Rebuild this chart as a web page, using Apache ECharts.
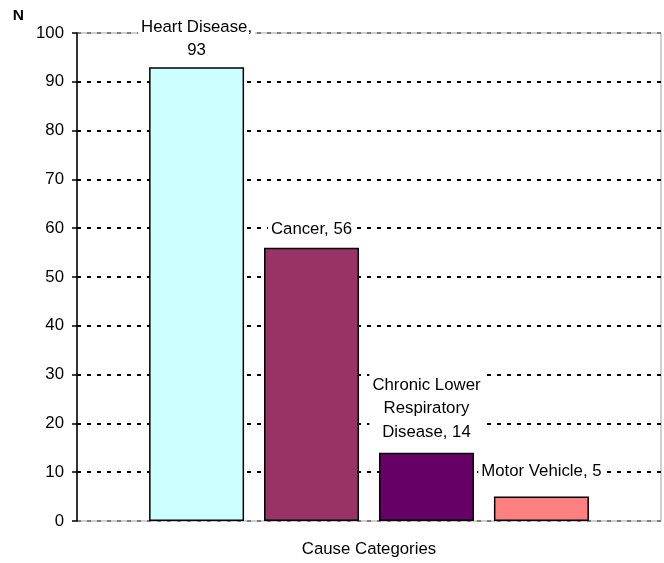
<!DOCTYPE html>
<html>
<head>
<meta charset="utf-8">
<script src="https://cdn.jsdelivr.net/npm/echarts@6/dist/echarts.min.js"></script>
<style>html,body{margin:0;padding:0;background:#fff;}#c{width:664px;height:563px;}</style>
</head>
<body>
<div id="c"></div>
<script>
var causeNames = ['Heart Disease', 'Cancer', 'Chronic Lower Respiratory Disease', 'Motor Vehicle'];
var labelNames = ['Heart Disease,\n', 'Cancer, ', 'Chronic Lower\nRespiratory\nDisease, ', 'Motor Vehicle, '];
var counts = [93, 56, 14, 5];
var barColors = ['#CCFFFF', '#993366', '#660066', '#FF8080'];
var yTicks = [0, 10, 20, 30, 40, 50, 60, 70, 80, 90, 100];
var labelDistances = [5, 7, 9, 13];

var chart = echarts.init(document.getElementById('c'));
var font = 'Liberation Sans, Arial, sans-serif';
var series = causeNames.map(function (n, i) {
  return {
    name: n,
    type: 'bar',
    data: [counts[i]],
    barWidth: 95,
    barGap: '21%',
    itemStyle: { color: barColors[i], borderColor: '#000', borderWidth: 1.5 },
    label: {
      show: true,
      position: 'top',
      distance: labelDistances[i],
      formatter: function (p) { return labelNames[i] + p.value; },
      color: '#000',
      fontFamily: font,
      fontSize: 16.8,
      lineHeight: 23.5,
      backgroundColor: '#fff',
      padding: [0, 3]
    },
    z: 3
  };
});
var splitColors = yTicks.map(function (t, i) { return (i === 0 || i === yTicks.length - 1) ? '#808080' : '#000'; });
chart.setOption({
  animation: false,
  grid: { left: 77, right: 3, top: 33, bottom: 41, show: true, borderColor: '#a0a0a0', borderWidth: 1 },
  xAxis: {
    type: 'category',
    data: [''],
    name: 'Cause Categories',
    nameLocation: 'middle',
    nameGap: 20,
    nameTextStyle: { fontFamily: font, fontSize: 16.8, color: '#000' },
    axisLine: { show: false },
    axisTick: { show: false },
    axisLabel: { show: false }
  },
  yAxis: {
    type: 'value',
    min: 0,
    max: 100,
    interval: 10,
    name: 'N',
    nameLocation: 'end',
    nameGap: 9,
    nameTextStyle: { fontFamily: font, fontSize: 15.5, fontWeight: 'bold', color: '#000', align: 'right', padding: [0, 53, 0, 0] },
    axisLine: { show: true, lineStyle: { color: '#000', width: 1.5 } },
    axisTick: { show: true, length: 5, lineStyle: { color: '#000', width: 1.5 } },
    axisLabel: { fontFamily: font, fontSize: 16.8, color: '#000', margin: 13 },
    splitLine: { show: true, lineStyle: { color: splitColors, width: 2, type: [4, 6] } }
  },
  series: series
});
</script>
</body>
</html>
